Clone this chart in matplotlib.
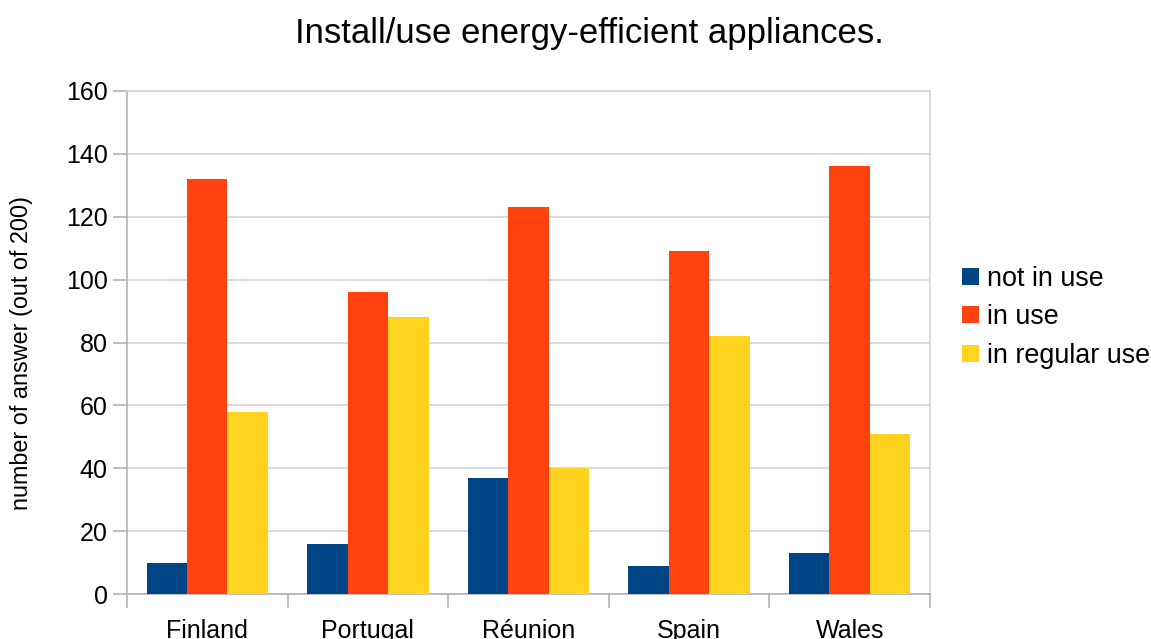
import matplotlib
matplotlib.use("Agg")
import matplotlib.pyplot as plt
import numpy as np

plt.rcParams['font.family'] = ['Liberation Sans', 'DejaVu Sans']

countries = ['Finland', 'Portugal', 'Réunion', 'Spain', 'Wales']
series = ['not in use', 'in use', 'in regular use']
not_in_use = [10, 16, 37, 9, 13]
in_use = [132, 96, 123, 109, 136]
in_regular_use = [58, 88, 40, 82, 51]
colors = ['#004586', '#ff420e', '#ffd320']

fig = plt.figure(figsize=(11.51, 6.39), dpi=100)
ax = fig.add_axes([0.1103, 0.0704, 0.6977, 0.7872])

x = np.arange(len(countries))
w = 0.252
for i, (vals, name) in enumerate(zip([not_in_use, in_use, in_regular_use], series)):
    ax.bar(x + (i - 1) * w, vals, w, color=colors[i], label=name, zorder=3)

ax.set_xlim(-0.5, len(countries) - 0.5)
ax.set_ylim(0, 160)
ax.set_yticks(np.arange(0, 161, 20))
ax.set_xticks(x)
ax.set_xticklabels(countries, fontsize=18)
ax.set_xticks(np.arange(-0.5, len(countries)), minor=True)
ax.tick_params(axis='x', which='major', length=0, pad=18)
ax.tick_params(axis='x', which='minor', length=10, color='#b3b3b3', width=1.2)
ax.tick_params(axis='y', labelsize=18, length=10, color='#b3b3b3', width=1.2, pad=4)
ax.grid(axis='y', color='#d4d4d4', linewidth=1.2, zorder=0)
for s in ax.spines.values():
    s.set_color('#b3b3b3')
    s.set_linewidth(1.2)
ax.spines['top'].set_color('#d4d4d4')
ax.spines['right'].set_color('#d4d4d4')

# y label placed to match the reference position
fig.text(22 / 1151, 1 - 353 / 639, 'number of answer (out of 200)', fontsize=16.8,
         rotation=90, ha='center', va='center')
fig.text(0.512, 0.948, 'Install/use energy-efficient appliances.', fontsize=25,
         ha='center', va='center')

ax.legend(loc='center left', bbox_to_anchor=(1.027, 0.55), frameon=False,
          fontsize=19.4, handlelength=0.6, handleheight=0.6, handletextpad=0.3,
          labelspacing=0.47, borderaxespad=0)

fig.savefig('out.png', dpi=100)
